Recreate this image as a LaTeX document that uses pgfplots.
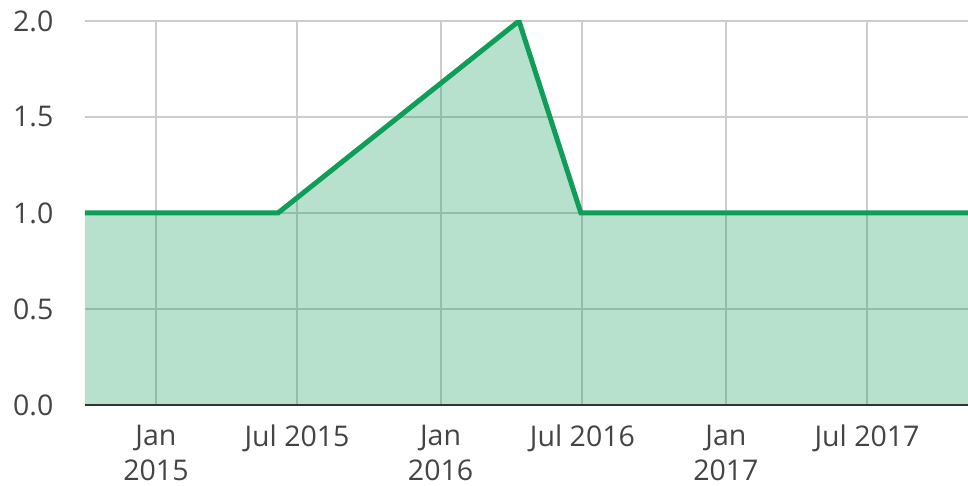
\documentclass[border=0pt]{standalone}
\usepackage{pgfplots}
\pgfplotsset{compat=1.18}
\usepackage{fontspec}
\setmainfont{Open Sans}
\definecolor{lineg}{HTML}{0F9D58}
\definecolor{gridc}{HTML}{CCCCCC}
\definecolor{txt}{HTML}{444444}
\definecolor{axc}{HTML}{333333}
\begin{document}
\fontsize{28.5bp}{35bp}\selectfont
\begin{tikzpicture}
\path[use as bounding box] (-85bp,-81bp) rectangle (883bp,405bp);
\begin{axis}[
  at={(0,0)}, anchor=south west,
  scale only axis, width=883bp, height=384bp,
  xmin=-91, xmax=1041.5, ymin=0, ymax=2,
  xtick={0,181,365,547,731,912},
  xticklabels={Jan\\2015, Jul 2015, Jan\\2016, Jul 2016, Jan\\2017, Jul 2017},
  ytick={0,0.5,1,1.5,2},
  yticklabel style={/pgf/number format/fixed, /pgf/number format/fixed zerofill, /pgf/number format/precision=1, anchor=east, xshift=-22bp},
  /pgf/number format/assume math mode=true,
  major tick length=0pt,
  axis line style={draw=none},
  grid=major,
  major grid style={draw=gridc, line width=2bp},
  tick label style={font=\fontsize{28.5bp}{35bp}\selectfont, text=txt},
  xticklabel style={align=center, anchor=north, yshift=-10bp},
]
\addplot[draw=none, fill=lineg, fill opacity=0.3] coordinates {
  (-91,1) (156.5,1) (465.6,2) (545,1) (1041.5,1)
} \closedcycle;
\addplot[draw=lineg, line width=5bp] coordinates {
  (-91,1) (156.5,1) (465.6,2) (545,1) (1041.5,1)
};
\draw[draw=axc, line width=3bp] (rel axis cs:0,0) -- (rel axis cs:1,0);
\end{axis}
\end{tikzpicture}
\end{document}
